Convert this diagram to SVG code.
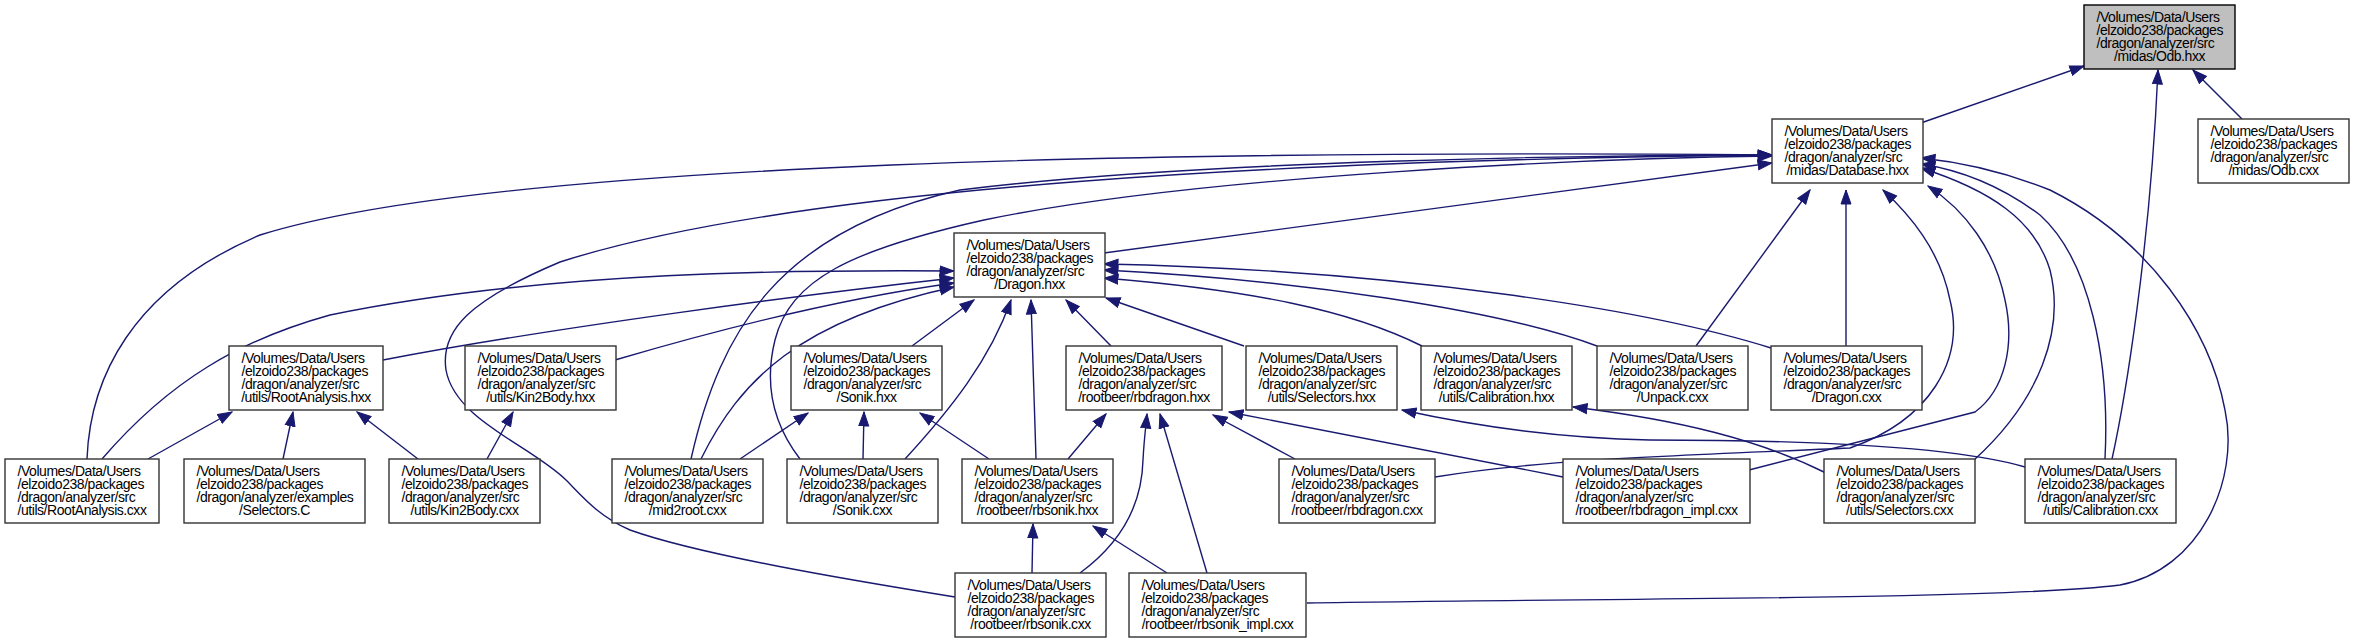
<svg xmlns="http://www.w3.org/2000/svg" width="2353" height="643" viewBox="0 0 2353 643">
<style>
.n rect{fill:#fff;stroke:#333;stroke-width:1.4}
.n text{font-family:"Liberation Sans",Arial,Helvetica,sans-serif;font-size:14px;letter-spacing:-0.45px;fill:#000}
.n .c{text-anchor:middle}
.e path{fill:none;stroke:#191970;stroke-width:1.4;marker-end:url(#arr)}
</style>
<defs>
<marker id="arr" markerUnits="userSpaceOnUse" markerWidth="16" markerHeight="12" viewBox="0 -6 15 12" refX="14" refY="0" orient="auto">
<path d="M0,-5 L14,0 L0,5 z" fill="#191970" stroke="#191970" stroke-width="1"/>
</marker>
</defs>
<rect width="2353" height="643" fill="#fff"/>
<g id="edges" class="e">
<path d="M1918,124 L2084,66"/>
<path d="M2242,119 L2193,70"/>
<path d="M2112,459 C2125,400 2150,250 2158,70"/>
<path d="M1104,253 L1772,163"/>
<path d="M87,459 C90,380 130,290 260,235 C500,160 1200,150 1772,155"/>
<path d="M691,459 C720,330 780,230 960,190 C1200,160 1600,155 1772,155"/>
<path d="M955,597 C850,580 700,555 630,530 C598,516 582,496 566,480 C530,445 455,420 446,370 C440,330 470,300 560,262 C800,185 1300,160 1772,155"/>
<path d="M800,459 C770,420 765,380 775,340 C790,280 850,250 984,220 C1200,175 1600,158 1772,156"/>
<path d="M1696,346 L1810,190"/>
<path d="M1846,346 L1846,190"/>
<path d="M1435,477 C1550,458 1700,455 1850,448 C1930,420 1965,360 1950,300 C1940,250 1910,215 1883,190"/>
<path d="M1749,470 L1975,412 C2005,390 2015,345 2005,300 C1995,250 1965,210 1928,186"/>
<path d="M1974,460 C2040,400 2065,330 2050,270 C2035,220 1990,190 1921,168"/>
<path d="M2105,459 C2110,360 2090,260 2040,215 C2000,185 1960,170 1921,164"/>
<path d="M1307,603 C1600,598 2000,600 2120,585 C2200,570 2240,480 2225,410 C2210,330 2150,240 2050,190 C2000,170 1960,162 1921,158"/>
<path d="M1826,473 C1760,440 1680,420 1573,407"/>
<path d="M2025,467 C1950,445 1800,440 1650,440 C1550,438 1470,425 1402,410"/>
<path d="M1563,477 L1229,412"/>
<path d="M1295,459 L1213,415"/>
<path d="M1068,459 L1106,414"/>
<path d="M1080,573 C1125,540 1142,500 1143,460 C1144,440 1146,425 1147,414"/>
<path d="M1207,573 L1160,414"/>
<path d="M1032,573 L1033,524"/>
<path d="M1167,573 L1093,526"/>
<path d="M989,459 L920,413"/>
<path d="M863,459 L864,412"/>
<path d="M740,459 L808,413"/>
<path d="M912,346 L974,300"/>
<path d="M905,459 C950,410 990,360 1011,300"/>
<path d="M1036,459 L1031,300"/>
<path d="M1111,346 L1066,300"/>
<path d="M1244,346 L1106,298"/>
<path d="M1422,346 C1350,310 1250,290 1104,278"/>
<path d="M1597,346 C1500,310 1300,280 1104,270"/>
<path d="M1771,348 C1650,310 1400,270 1104,264"/>
<path d="M383,360 C550,328 800,295 954,278"/>
<path d="M615,360 C700,335 830,300 954,283"/>
<path d="M102,459 C170,380 240,340 330,315 C550,270 800,270 954,271"/>
<path d="M701,459 C740,380 800,320 954,287"/>
<path d="M148,459 L232,412"/>
<path d="M283,459 L293,412"/>
<path d="M418,459 L357,412"/>
<path d="M487,459 L513,412"/>
</g>
<g id="odb_hxx" class="n"><rect x="2084" y="5" width="151" height="64" style="fill:#bfbfbf;stroke:#000"/><text x="2096.5" y="22">/Volumes/Data/Users</text><text x="2096.5" y="35">/elzoido238/packages</text><text x="2096.5" y="48">/dragon/analyzer/src</text><text class="c" x="2159.5" y="61">/midas/Odb.hxx</text></g>
<g id="database_hxx" class="n"><rect x="1772" y="119" width="151" height="64"/><text x="1784.5" y="136">/Volumes/Data/Users</text><text x="1784.5" y="149">/elzoido238/packages</text><text x="1784.5" y="162">/dragon/analyzer/src</text><text class="c" x="1847.5" y="175">/midas/Database.hxx</text></g>
<g id="odb_cxx" class="n"><rect x="2198" y="119" width="151" height="64"/><text x="2210.5" y="136">/Volumes/Data/Users</text><text x="2210.5" y="149">/elzoido238/packages</text><text x="2210.5" y="162">/dragon/analyzer/src</text><text class="c" x="2273.5" y="175">/midas/Odb.cxx</text></g>
<g id="dragon_hxx" class="n"><rect x="954" y="233" width="151" height="64"/><text x="966.5" y="250">/Volumes/Data/Users</text><text x="966.5" y="263">/elzoido238/packages</text><text x="966.5" y="276">/dragon/analyzer/src</text><text class="c" x="1029.5" y="289">/Dragon.hxx</text></g>
<g id="rootanalysis_hxx" class="n"><rect x="229" y="346" width="154" height="64"/><text x="241.5" y="363">/Volumes/Data/Users</text><text x="241.5" y="376">/elzoido238/packages</text><text x="241.5" y="389">/dragon/analyzer/src</text><text class="c" x="306" y="402">/utils/RootAnalysis.hxx</text></g>
<g id="kin2body_hxx" class="n"><rect x="465" y="346" width="151" height="64"/><text x="477.5" y="363">/Volumes/Data/Users</text><text x="477.5" y="376">/elzoido238/packages</text><text x="477.5" y="389">/dragon/analyzer/src</text><text class="c" x="540.5" y="402">/utils/Kin2Body.hxx</text></g>
<g id="sonik_hxx" class="n"><rect x="791" y="346" width="151" height="64"/><text x="803.5" y="363">/Volumes/Data/Users</text><text x="803.5" y="376">/elzoido238/packages</text><text x="803.5" y="389">/dragon/analyzer/src</text><text class="c" x="866.5" y="402">/Sonik.hxx</text></g>
<g id="rbdragon_hxx" class="n"><rect x="1066" y="346" width="156" height="64"/><text x="1078.5" y="363">/Volumes/Data/Users</text><text x="1078.5" y="376">/elzoido238/packages</text><text x="1078.5" y="389">/dragon/analyzer/src</text><text class="c" x="1144" y="402">/rootbeer/rbdragon.hxx</text></g>
<g id="selectors_hxx" class="n"><rect x="1246" y="346" width="151" height="64"/><text x="1258.5" y="363">/Volumes/Data/Users</text><text x="1258.5" y="376">/elzoido238/packages</text><text x="1258.5" y="389">/dragon/analyzer/src</text><text class="c" x="1321.5" y="402">/utils/Selectors.hxx</text></g>
<g id="calibration_hxx" class="n"><rect x="1421" y="346" width="151" height="64"/><text x="1433.5" y="363">/Volumes/Data/Users</text><text x="1433.5" y="376">/elzoido238/packages</text><text x="1433.5" y="389">/dragon/analyzer/src</text><text class="c" x="1496.5" y="402">/utils/Calibration.hxx</text></g>
<g id="unpack_cxx" class="n"><rect x="1597" y="346" width="151" height="64"/><text x="1609.5" y="363">/Volumes/Data/Users</text><text x="1609.5" y="376">/elzoido238/packages</text><text x="1609.5" y="389">/dragon/analyzer/src</text><text class="c" x="1672.5" y="402">/Unpack.cxx</text></g>
<g id="dragon_cxx" class="n"><rect x="1771" y="346" width="151" height="64"/><text x="1783.5" y="363">/Volumes/Data/Users</text><text x="1783.5" y="376">/elzoido238/packages</text><text x="1783.5" y="389">/dragon/analyzer/src</text><text class="c" x="1846.5" y="402">/Dragon.cxx</text></g>
<g id="rootanalysis_cxx" class="n"><rect x="5" y="459" width="154" height="64"/><text x="17.5" y="476">/Volumes/Data/Users</text><text x="17.5" y="489">/elzoido238/packages</text><text x="17.5" y="502">/dragon/analyzer/src</text><text class="c" x="82" y="515">/utils/RootAnalysis.cxx</text></g>
<g id="selectors_c" class="n"><rect x="184" y="459" width="181" height="64"/><text x="196.5" y="476">/Volumes/Data/Users</text><text x="196.5" y="489">/elzoido238/packages</text><text x="196.5" y="502">/dragon/analyzer/examples</text><text class="c" x="274.5" y="515">/Selectors.C</text></g>
<g id="kin2body_cxx" class="n"><rect x="389" y="459" width="151" height="64"/><text x="401.5" y="476">/Volumes/Data/Users</text><text x="401.5" y="489">/elzoido238/packages</text><text x="401.5" y="502">/dragon/analyzer/src</text><text class="c" x="464.5" y="515">/utils/Kin2Body.cxx</text></g>
<g id="mid2root_cxx" class="n"><rect x="612" y="459" width="151" height="64"/><text x="624.5" y="476">/Volumes/Data/Users</text><text x="624.5" y="489">/elzoido238/packages</text><text x="624.5" y="502">/dragon/analyzer/src</text><text class="c" x="687.5" y="515">/mid2root.cxx</text></g>
<g id="sonik_cxx" class="n"><rect x="787" y="459" width="151" height="64"/><text x="799.5" y="476">/Volumes/Data/Users</text><text x="799.5" y="489">/elzoido238/packages</text><text x="799.5" y="502">/dragon/analyzer/src</text><text class="c" x="862.5" y="515">/Sonik.cxx</text></g>
<g id="rbsonik_hxx" class="n"><rect x="962" y="459" width="151" height="64"/><text x="974.5" y="476">/Volumes/Data/Users</text><text x="974.5" y="489">/elzoido238/packages</text><text x="974.5" y="502">/dragon/analyzer/src</text><text class="c" x="1037.5" y="515">/rootbeer/rbsonik.hxx</text></g>
<g id="rbdragon_cxx" class="n"><rect x="1279" y="459" width="156" height="64"/><text x="1291.5" y="476">/Volumes/Data/Users</text><text x="1291.5" y="489">/elzoido238/packages</text><text x="1291.5" y="502">/dragon/analyzer/src</text><text class="c" x="1357" y="515">/rootbeer/rbdragon.cxx</text></g>
<g id="rbdragon_impl_cxx" class="n"><rect x="1563" y="459" width="187" height="64"/><text x="1575.5" y="476">/Volumes/Data/Users</text><text x="1575.5" y="489">/elzoido238/packages</text><text x="1575.5" y="502">/dragon/analyzer/src</text><text class="c" x="1656.5" y="515">/rootbeer/rbdragon_impl.cxx</text></g>
<g id="selectors_cxx" class="n"><rect x="1824" y="459" width="151" height="64"/><text x="1836.5" y="476">/Volumes/Data/Users</text><text x="1836.5" y="489">/elzoido238/packages</text><text x="1836.5" y="502">/dragon/analyzer/src</text><text class="c" x="1899.5" y="515">/utils/Selectors.cxx</text></g>
<g id="calibration_cxx" class="n"><rect x="2025" y="459" width="151" height="64"/><text x="2037.5" y="476">/Volumes/Data/Users</text><text x="2037.5" y="489">/elzoido238/packages</text><text x="2037.5" y="502">/dragon/analyzer/src</text><text class="c" x="2100.5" y="515">/utils/Calibration.cxx</text></g>
<g id="rbsonik_cxx" class="n"><rect x="955" y="573" width="151" height="64"/><text x="967.5" y="590">/Volumes/Data/Users</text><text x="967.5" y="603">/elzoido238/packages</text><text x="967.5" y="616">/dragon/analyzer/src</text><text class="c" x="1030.5" y="629">/rootbeer/rbsonik.cxx</text></g>
<g id="rbsonik_impl_cxx" class="n"><rect x="1129" y="573" width="177" height="64"/><text x="1141.5" y="590">/Volumes/Data/Users</text><text x="1141.5" y="603">/elzoido238/packages</text><text x="1141.5" y="616">/dragon/analyzer/src</text><text class="c" x="1217.5" y="629">/rootbeer/rbsonik_impl.cxx</text></g>
</svg>
